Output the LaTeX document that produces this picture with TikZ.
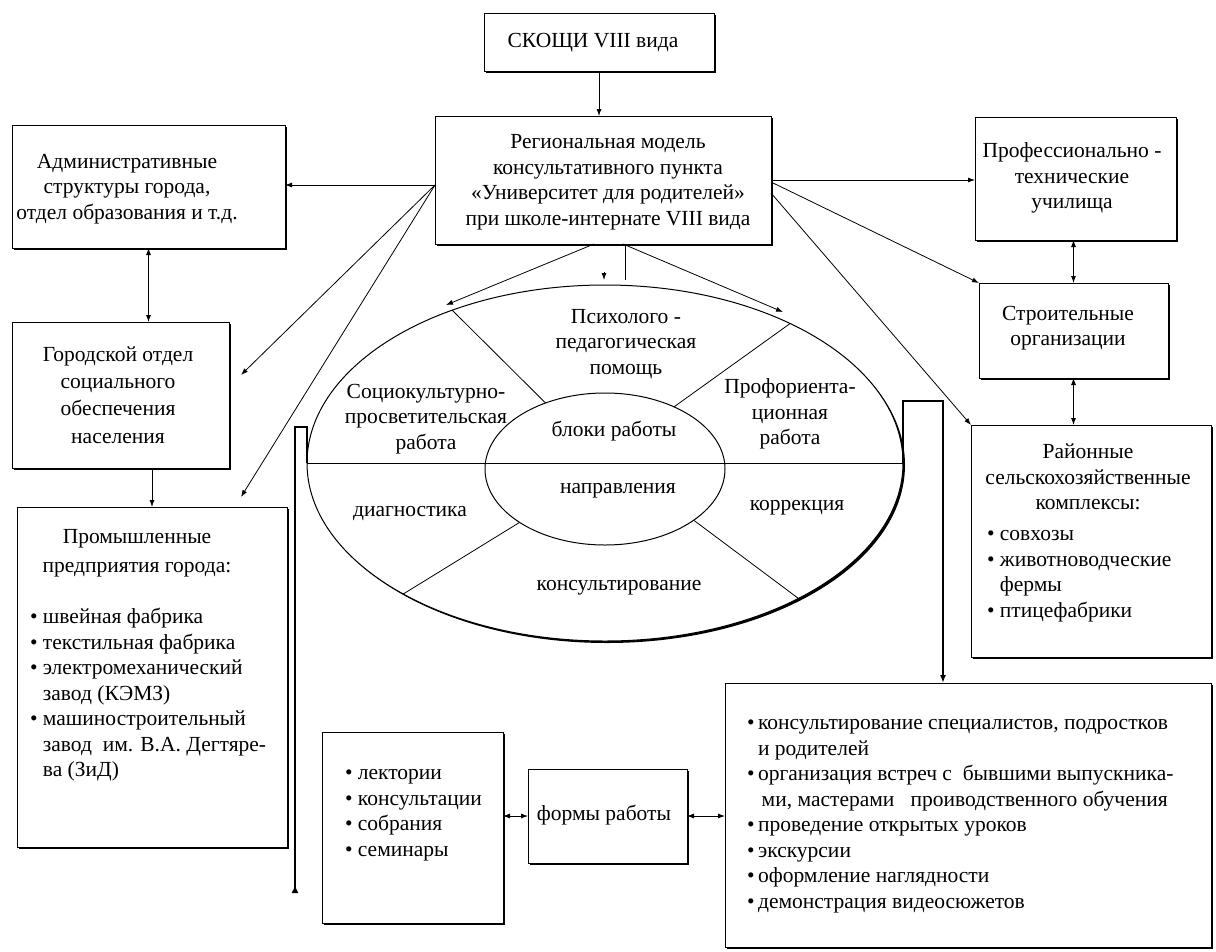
\documentclass[tikz,border=0pt]{standalone}
\usepackage{fontspec}
\setmainfont{Liberation Serif}
\usetikzlibrary{arrows.meta,shapes.geometric,shadows,calc}
\begin{document}
\begin{tikzpicture}[x=1pt,y=-1pt,
  txt/.style={font=\fontsize{21.5}{25.5}\selectfont, inner sep=0pt, outer sep=0pt},
  ctxt/.style={txt, align=center},
  ltxt/.style={txt, align=left, anchor=west},
  box/.style={draw, line width=1pt, fill=white, inner sep=0pt, outer sep=0pt,
    drop shadow={shadow xshift=2.2pt, shadow yshift=-2.2pt, opacity=1, fill=black}},
  oval/.style={ellipse, draw, line width=1pt, inner sep=0pt, outer sep=0pt},
  conn/.style={line width=0.8pt},
  arr/.style={conn, -{Latex[length=7pt,width=5pt]}},
  darr/.style={conn, {Latex[length=7pt,width=5pt]}-{Latex[length=7pt,width=5pt]}},
  brack/.style={line width=1.8pt},
]
\useasboundingbox (0,0) rectangle (1216,951);
\fill[white] (0,0) rectangle (1216,951);

% ---------- boxes ----------
\node[box, minimum width=230pt, minimum height=58pt]  (skoshi)  at (599,42) {};
\node[box, minimum width=336pt, minimum height=128pt] (central) at (603,180) {};
\node[box, minimum width=273pt, minimum height=123pt] (admin)   at (148.5,186.5) {};
\node[box, minimum width=217pt, minimum height=146pt] (gorod)   at (120.5,395) {};
\node[box, minimum width=270pt, minimum height=340pt] (promysh) at (152,677) {};
\node[box, minimum width=201pt, minimum height=123pt] (prof)    at (1075.5,178.5) {};
\node[box, minimum width=189pt, minimum height=95pt]  (stroit)  at (1073.5,330.5) {};
\node[box, minimum width=240pt, minimum height=232pt] (raion)   at (1091,541) {};
\node[box, minimum width=181pt, minimum height=191pt] (lekt)    at (412.5,827.5) {};
\node[box, minimum width=159pt, minimum height=94pt]  (formy)   at (607.5,816) {};
\node[box, minimum width=486pt, minimum height=264pt] (meth)    at (968,815) {};

% ---------- box texts ----------
\node[ctxt] (tskoshi) at (593,43) {СКОЩИ VIII вида};
\node[ctxt] (tcentral) at (608,182) {Региональная модель\\консультативного пункта\\«Университет для родителей»\\при школе-интернате VIII вида};
\node[ctxt] (tadmin) at (127,189) {Административные\\структуры города,\\отдел образования и т.д.};
\node[ctxt] (tgorod) at (118,395) {Городской отдел\\[1.8pt]социального\\[1.8pt]обеспечения\\[1.8pt]населения};
\node[ctxt] (tpromysh) at (137,553) {Промышленные\\[3pt]предприятия города:};
\node[ltxt] (lpromysh) at (30,695) {• швейная фабрика\\• текстильная фабрика\\• электромеханический\\\hphantom{• }завод (КЭМЗ)\\• машиностроительный\\\hphantom{• }завод\ \ им. В.А. Дегтяре-\\\hphantom{• }ва (ЗиД)};
\node[ctxt] (tprof) at (1072,178) {Профессионально -\\технические\\училища};
\node[ctxt] (tstroit) at (1068,328) {Строительные\\организации};
\node[ctxt] (traion) at (1088,477) {Районные\\сельскохозяйственные\\комплексы:};
\node[ltxt] (lraion) at (987,576) {• совхозы\\• животноводческие\\\hphantom{• }фермы\\• птицефабрики};
\node[ltxt] (llekt) at (345,815) {• лектории\\• консультации\\• собрания\\• семинары};
\node[ctxt] (tformy) at (604,815) {формы работы};
\node[ltxt] (lmeth) at (747,816) {•\,консультирование специалистов, подростков\\\hphantom{•\,}и родителей\\•\,организация встреч с\ \ бывшими выпускника-\\\hphantom{•\,\,}ми, мастерами\ \ \ проиводственного обучения\\•\,проведение открытых уроков\\•\,экскурсии\\•\,оформление наглядности\\•\,демонстрация видеосюжетов};

% ---------- ellipse ----------
\node[oval, fill=white, minimum width=596pt, minimum height=356pt,
  drop shadow={shadow xshift=2pt, shadow yshift=-2pt, opacity=1, fill=black}] (outer) at (605,463) {};
\node[oval, minimum width=240pt, minimum height=152pt] (inner) at (605,469) {};
\draw[conn] (outer.west) -- (outer.east);
\draw[conn] (outer.135) -- (inner.132);
\draw[conn] (outer.37) -- (inner.42);
\draw[conn] (outer.213) -- (inner.212);
\draw[conn] (outer.325) -- (inner.330);

\node[ctxt] (psych) at (626,344) {Психолого -\\педагогическая\\помощь};
\node[ctxt] (socio) at (426,419) {Социокультурно-\\просветительская\\работа};
\node[ctxt] (proforient) at (790,414) {Профориента-\\ционная\\работа};
\node[ctxt] (bloki) at (614,431) {блоки работы};
\node[ctxt] (napr) at (618,491) {направления};
\node[ctxt] (diag) at (410,514) {диагностика};
\node[ctxt] (korr) at (797,508) {коррекция};
\node[ctxt] (konsult) at (619,588) {консультирование};

% ---------- connectors ----------
\coordinate (cL) at (435,185);
\coordinate (tG) at (241,375);
\coordinate (tP) at (241,497);
\coordinate (cR1) at (771,182);
\coordinate (cR2) at (771,193);
\coordinate (cB1) at (594,244);
\coordinate (cB2) at (623,244);
\coordinate (tE1) at (446,305);
\coordinate (tE2) at (783,312);
\coordinate (vTop) at (604,272);
\coordinate (vTip) at (604,280);
\coordinate (bL) at (295,427);
\coordinate (bLend) at (295,893);
\coordinate (bR) at (943,401);

\draw[arr] (skoshi.south) -- (skoshi.south |- central.north);
\draw[arr] (cL) -- (cL -| admin.east);
\draw[arr] (cL) -- (tG);
\draw[arr] (cL) -- (tP);
\draw[darr] (admin.south) -- (admin.south |- gorod.north);
\draw[arr] (gorod.south -| promysh.north) -- (promysh.north);
\draw[arr] (central.east) -- (central.east -| prof.west);
\draw[arr] (cR1) -- (stroit.north west);
\draw[arr] (cR2) -- (raion.north west);
\draw[darr] (stroit.north) -- (stroit.north |- prof.south);
\draw[darr] (stroit.south) -- (stroit.south |- raion.north);
\draw[arr] (cB1) -- (tE1);
\draw[arr] (cB2) -- (tE2);
\draw[conn] (central.south -| 625,0) -- (625,280);
\draw[arr] (vTop) -- (vTip);
\draw[darr] (lekt.east |- formy.west) -- (formy.west);
\draw[darr] (formy.east) -- (formy.east -| meth.west);
\draw[brack, -{Latex[length=8pt,width=6pt]}] (outer.east) -- (outer.east |- bR) -- (bR) -- (bR |- meth.north);
\draw[brack, -{Latex[length=8pt,width=7pt,reversed]}] (outer.west) -- (outer.west |- bL) -- (bL) -- (bLend);
\end{tikzpicture}
\end{document}
